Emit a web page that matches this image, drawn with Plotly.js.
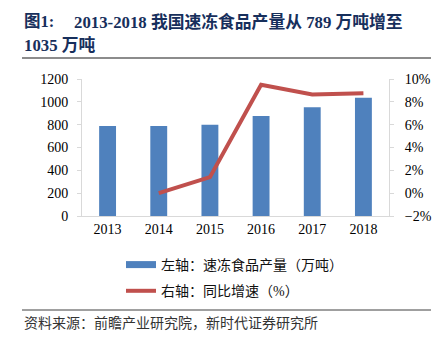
<!DOCTYPE html>
<html><head><meta charset="utf-8">
<script src="https://cdn.plot.ly/plotly-3.0.1.min.js"></script>
<style>html,body{margin:0;padding:0;background:#fff;}#chart{width:442px;height:339px;}</style>
</head><body><div id="chart"></div>
<script>
var years = ['2013','2014','2015','2016','2017','2018'];
var output = [789, 789, 800, 876, 952, 1035];
var growth = [null, 0.000, 0.014, 0.095, 0.0865, 0.0875];
var nameBar = '左轴：速冻食品产量（万吨）';
var nameLine = '右轴：同比增速（%）';
var titleHead = '图1:';
var titleLine1 = '2013-2018 我国速冻食品产量从 789 万吨增至';
var titleLine2 = '1035 万吨';
var sourceText = '资料来源：前瞻产业研究院，新时代证券研究所';

var L = 82, R = 389, T = 79, B = 216;
function px(x){ return (x - L) / (R - L); }
function py(y){ return (B - y) / (B - T); }

var serif = 'Liberation Serif, "Noto Sans CJK SC", serif';
var cjk = 'Liberation Serif, "Noto Sans CJK SC", sans-serif';
var blue = '#4F81BD', red = '#C0504D';

var data = [
  {type:'bar', x: years, y: output, marker:{color: blue}, showlegend:false, hoverinfo:'none'},
  {type:'scatter', mode:'lines', x: years, y: growth, yaxis:'y2', line:{color: red, width:4}, showlegend:false, hoverinfo:'none'},
  {type:'scatter', mode:'lines', x:[null], y:[null], name: nameBar, line:{color: blue, width:7}, legendgroup:'a'},
  {type:'scatter', mode:'lines', x:[null], y:[null], name: nameLine, line:{color: red, width:4}, legendgroup:'b'}
];

var axisCol = '#d9d9d9';
var layout = {
  width:442, height:339,
  margin:{l:L, r:442-R, t:T, b:339-B, pad:0},
  paper_bgcolor:'#fff', plot_bgcolor:'#fff',
  bargap: 0.67,
  font:{family: serif, size:14, color:'#000'},
  xaxis:{type:'category', showline:true, linecolor:axisCol, linewidth:1, ticks:'', showgrid:false, zeroline:false,
         tickfont:{family:serif, size:14, color:'#000'}, fixedrange:true},
  yaxis:{range:[0,1200], dtick:200, showgrid:false, zeroline:false, showline:true, linecolor:axisCol,
         ticks:'outside', ticklen:4, tickcolor:axisCol, tickfont:{family:serif, size:14, color:'#000'}, ticklabelstandoff:6},
  yaxis2:{overlaying:'y', side:'right', range:[-0.02,0.10], dtick:0.02, tickformat:'.0%', showgrid:false, zeroline:false,
          showline:true, linecolor:axisCol, ticks:'outside', ticklen:4, tickcolor:axisCol,
          tickfont:{family:serif, size:14, color:'#000'}, ticklabelstandoff:8},
  showlegend:true,
  legend:{orientation:'v', x:px(121), xanchor:'left', y:py(249), yanchor:'top', traceorder:'grouped', tracegroupgap:5,
          font:{family:cjk, size:14, color:'#111'}, bgcolor:'rgba(0,0,0,0)', itemwidth:30},
  shapes:[
    {type:'line', xref:'paper', yref:'paper', x0:px(22), x1:px(431), y0:py(58), y1:py(58), line:{color:'#8c8c8c', width:2}},
    {type:'line', xref:'paper', yref:'paper', x0:px(22), x1:px(431), y0:py(310), y1:py(310), line:{color:'#404040', width:1}}
  ],
  annotations:[
    {xref:'paper', yref:'paper', x:px(22), y:py(22), xanchor:'left', yanchor:'middle', showarrow:false, text:'<b>'+titleHead+'</b>', font:{family:cjk, size:16.5, color:'#172F5C'}},
    {xref:'paper', yref:'paper', x:px(72), y:py(22), xanchor:'left', yanchor:'middle', showarrow:false, text:'<b>'+titleLine1+'</b>', font:{family:cjk, size:16.8, color:'#172F5C'}},
    {xref:'paper', yref:'paper', x:px(22), y:py(45), xanchor:'left', yanchor:'middle', showarrow:false, text:'<b>'+titleLine2+'</b>', font:{family:cjk, size:16.8, color:'#172F5C'}},
    {xref:'paper', yref:'paper', x:px(22), y:py(323), xanchor:'left', yanchor:'middle', showarrow:false, text:sourceText, font:{family:cjk, size:14, color:'#333'}}
  ]
};
Plotly.newPlot('chart', data, layout, {staticPlot:true, displayModeBar:false});
</script></body></html>
